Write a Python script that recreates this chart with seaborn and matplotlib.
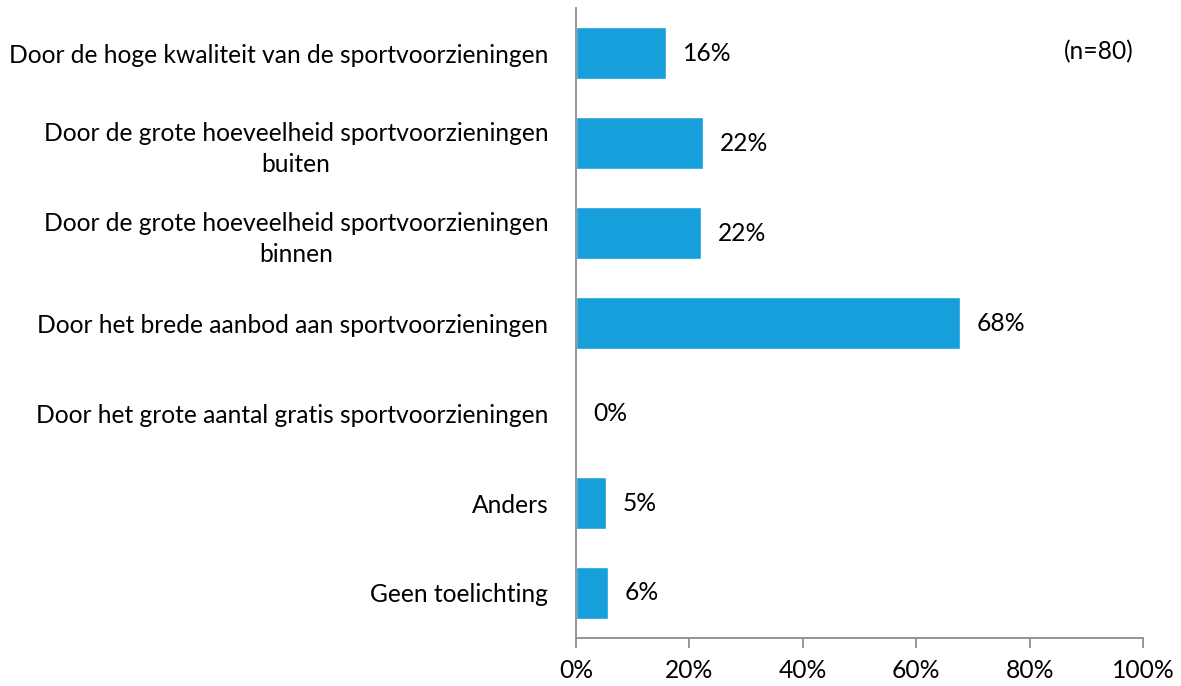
import pandas as pd
import matplotlib.pyplot as plt
import seaborn as sns
from matplotlib.ticker import PercentFormatter

# Data
categories = [
    "Door de hoge kwaliteit van de sportvoorzieningen",
    "Door de grote hoeveelheid sportvoorzieningen\nbuiten",
    "Door de grote hoeveelheid sportvoorzieningen\nbinnen",
    "Door het brede aanbod aan sportvoorzieningen",
    "Door het grote aantal gratis sportvoorzieningen",
    "Anders",
    "Geen toelichting",
]
values = [15.9, 22.4, 22.0, 67.7, 0.0, 5.3, 5.6]
labels = ["16%", "22%", "22%", "68%", "0%", "5%", "6%"]

df = pd.DataFrame({"categorie": categories, "pct": values})

sns.set_style("white")
plt.rcParams['font.family'] = ['Lato', 'DejaVu Sans']
plt.rcParams['text.color'] = 'black'
plt.rcParams['xtick.color'] = 'black'
plt.rcParams['ytick.color'] = 'black'

fs = 17.7

fig = plt.figure(figsize=(11.81, 6.86), dpi=100)
ax = fig.add_axes([0.4877, 0.070, 0.4801, 0.918])

sns.barplot(data=df, x="pct", y="categorie", color="#179FDB", saturation=1,
            width=0.58, ax=ax)

for i, (v, lab) in enumerate(zip(values, labels)):
    ax.annotate(lab, xy=(v, i), xytext=(17, 0), textcoords="offset pixels",
                va="center", ha="left", fontsize=fs, color="black")

ax.set_xlim(0, 100)
ax.set_xticks([0, 20, 40, 60, 80, 100])
ax.xaxis.set_major_formatter(PercentFormatter(decimals=0))
ax.set_xlabel("")
ax.set_ylabel("")

for side in ["top", "right"]:
    ax.spines[side].set_visible(False)
for side in ["left", "bottom"]:
    ax.spines[side].set_color("#8c8c8c")
    ax.spines[side].set_linewidth(1.3)

ax.tick_params(axis="x", length=7, width=1.3, color="#8c8c8c", direction="out",
               labelsize=fs, labelcolor="black", pad=8, bottom=True)
ax.tick_params(axis="y", length=0, labelsize=fs, labelcolor="black", pad=20)
for t in ax.get_yticklabels():
    t.set_multialignment("center")
    t.set_linespacing(1.4)

fig.text(0.960, 0.924, "(n=80)", ha="right", va="center", fontsize=fs)

fig.savefig("out.png", dpi=100)
